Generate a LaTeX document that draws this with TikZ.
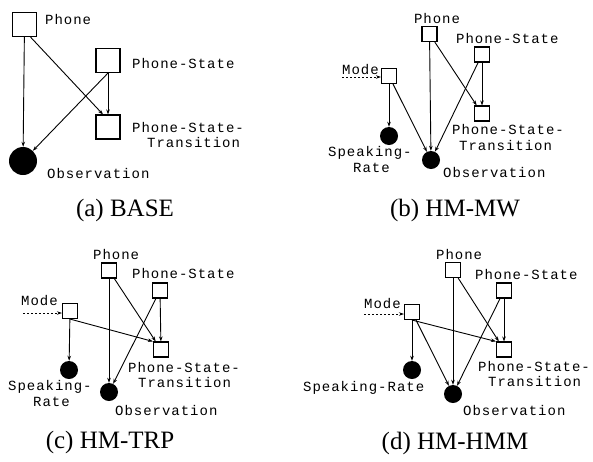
\documentclass[tikz,border=0pt]{standalone}
\usepackage{fontspec}
\setmainfont{Liberation Serif}
\newfontfamily\lblfont[LetterSpace=7]{Liberation Mono}
\usetikzlibrary{arrows.meta,calc}
\begin{document}
\begin{tikzpicture}[x=1pt,y=-1pt,
  bx/.style={draw, line width=1.1pt, inner sep=0pt, minimum size=15pt},
  bigbx/.style={bx, minimum size=24pt},
  dot/.style={circle, fill=black, inner sep=0pt, minimum size=18pt},
  bigdot/.style={dot, minimum size=28pt},
  arr/.style={line width=0.9pt, -{Stealth[length=5pt,width=3.5pt]}},
  dsh/.style={arr, dash pattern=on 2pt off 2pt},
  lbl/.style={inner sep=0pt, anchor=west, font=\lblfont\fontsize{14}{16}\selectfont},
  captxt/.style={font=\fontsize{25}{28}\selectfont, inner sep=0pt}
]
\fill[white] (0,0) rectangle (593,461);
\useasboundingbox (0,0) rectangle (593,461);

% ---------- (a) BASE ----------
\node[bigbx] (pa) at (24.5,24.5) {};
\node[lbl] (pal) at (45,19) {Phone};
\node[bigbx] (psa) at (108,60.5) {};
\node[lbl] (psal) at (132,63) {Phone-State};
\node[bigbx] (pta) at (108,127) {};
\node[lbl] (ptal1) at (132,127) {Phone-State-};
\node[lbl] (ptal2) at (147,142) {Transition};
\node[bigdot] (oa) at (23,161) {};
\node[lbl] (oal) at (47,173) {Observation};
\draw[arr] (pa) -- (oa);
\draw[arr] ($(pa.south)+(6,0)$) -- ($(pta.north)+(-5,0)$);
\draw[arr] (psa) -- (pta);
\draw[arr] (psa.south) -- (oa);
\node[captxt] (capa) at (125,210) {(a) BASE};

% ---------- (b) HM-MW ----------
\node[bx] (pb) at (429.5,34) {};
\node[lbl, anchor=center] (pbl) at (437,18) {Phone};
\node[bx] (psb) at (482,54.5) {};
\node[lbl] (psbl) at (456,38) {Phone-State};
\node[bx] (mb) at (389,76) {};
\node[lbl] (mbl) at (342,70) {Mode};
\coordinate (inb) at (342,77);
\node[bx] (ptb) at (482,113.5) {};
\node[lbl] (ptbl1) at (452,129) {Phone-State-};
\node[lbl] (ptbl2) at (459,145) {Transition};
\node[dot] (sb) at (389,136) {};
\node[lbl] (sbl1) at (328,153) {Speaking-};
\node[lbl] (sbl2) at (353,168) {Rate};
\node[dot] (ob) at (431,160) {};
\node[lbl] (obl) at (443,172) {Observation};
\draw[dsh] (inb) -- (inb -| mb.west);
\draw[arr] (pb) -- (ob);
\draw[arr] (pb) -- (ptb);
\draw[arr] (psb) -- (ptb);
\draw[arr] (psb) -- (ob);
\draw[arr] (mb) -- (sb);
\draw[arr] (mb) -- (ob);
\node[captxt] (capb) at (455,210) {(b) HM-MW};

% ---------- (c) HM-TRP ----------
\node[bx] (pc) at (109,270.5) {};
\node[lbl] (pcl) at (93,254) {Phone};
\node[bx] (psc) at (160,290.5) {};
\node[lbl] (pscl) at (132,273) {Phone-State};
\node[bx] (mc) at (70,311) {};
\node[lbl] (mcl) at (21,301) {Mode};
\coordinate (inc) at (23,313);
\node[bx] (ptc) at (161,349.5) {};
\node[lbl] (ptcl1) at (128,367) {Phone-State-};
\node[lbl] (ptcl2) at (138,382) {Transition};
\node[dot] (sc) at (69,370) {};
\node[lbl] (scl1) at (8,387) {Speaking-};
\node[lbl] (scl2) at (33,402) {Rate};
\node[dot] (oc) at (109,392) {};
\node[lbl] (ocl) at (115,410) {Observation};
\draw[dsh] (inc) -- (inc -| mc.west);
\draw[arr] (pc) -- (oc);
\draw[arr] (pc) -- (ptc);
\draw[arr] (psc) -- (ptc);
\draw[arr] (psc) -- (oc);
\draw[arr] (mc) -- (sc);
\draw[arr] (mc.south) -- (ptc.north west);
\node[captxt] (capc) at (110,442) {(c) HM-TRP};

% ---------- (d) HM-HMM ----------
\node[bx] (pd) at (453,270) {};
\node[lbl] (pdl) at (436,254) {Phone};
\node[bx] (psd) at (504,290.5) {};
\node[lbl] (psdl) at (475,274) {Phone-State};
\node[bx] (md) at (412,312) {};
\node[lbl] (mdl) at (364,304) {Mode};
\coordinate (ind) at (364,314);
\node[bx] (ptd) at (504,349.5) {};
\node[lbl] (ptdl1) at (478,366) {Phone-State-};
\node[lbl] (ptdl2) at (488,381) {Transition};
\node[dot] (sd) at (412,370) {};
\node[lbl] (sdl) at (303,388) {Speaking-Rate};
\node[dot] (od) at (453,394) {};
\node[lbl] (odl) at (463,410) {Observation};
\draw[dsh] (ind) -- (ind -| md.west);
\draw[arr] (pd) -- (od);
\draw[arr] (pd) -- (ptd);
\draw[arr] (psd) -- (ptd);
\draw[arr] (psd) -- (od);
\draw[arr] (md) -- (sd);
\draw[arr] (md) -- (od);
\draw[arr] (md.south) -- (ptd.north west);
\node[captxt] (capd) at (455,443) {(d) HM-HMM};
\end{tikzpicture}
\end{document}
